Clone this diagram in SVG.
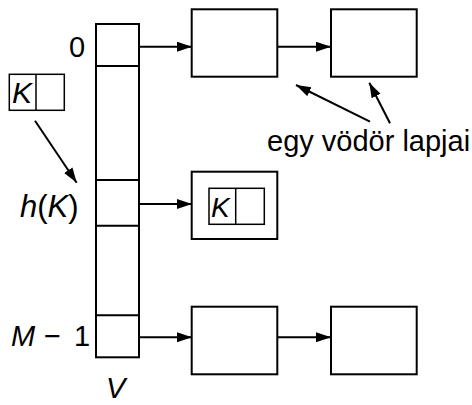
<svg xmlns="http://www.w3.org/2000/svg" width="472" height="405" viewBox="0 0 472 405">
<style>
.box{fill:#fff;stroke:#000;stroke-width:2}
.thin{fill:none;stroke:#000;stroke-width:1.5}
.ln{fill:none;stroke:#000;stroke-width:2}
.arr{fill:none;stroke:#000;stroke-width:2;marker-end:url(#ah)}
text{font-family:"Liberation Sans",Arial,sans-serif;font-size:29px;fill:#000}
.it{font-style:italic}
</style>
<defs>
<marker id="ah" markerUnits="userSpaceOnUse" markerWidth="16" markerHeight="12" refX="15" refY="5" orient="auto">
<path d="M0,0 L15,5 L0,10 z" fill="#000"/>
</marker>
</defs>
<g id="connectors">
<line class="arr" x1="139" y1="46.7" x2="192" y2="46.7"/>
<line class="arr" x1="277.3" y1="46.7" x2="331" y2="46.7"/>
<line class="arr" x1="139" y1="204" x2="192" y2="204"/>
<line class="arr" x1="139" y1="337.3" x2="192" y2="337.3"/>
<line class="arr" x1="277.3" y1="337.3" x2="331" y2="337.3"/>
<line class="arr" x1="35" y1="120.7" x2="76.7" y2="182.7"/>
<line class="arr" x1="370" y1="121.7" x2="296" y2="85"/>
<line class="arr" x1="390" y1="123.3" x2="369.3" y2="82.7"/>
</g>
<g id="vector">
<rect class="box" x="96" y="24" width="43" height="333.3"/>
<line class="ln" x1="96" y1="66" x2="139" y2="66"/>
<line class="ln" x1="96" y1="180" x2="139" y2="180"/>
<line class="ln" x1="96" y1="225.7" x2="139" y2="225.7"/>
<line class="ln" x1="96" y1="315.3" x2="139" y2="315.3"/>
</g>
<g id="key">
<rect class="thin" x="9.3" y="74.3" width="55" height="36"/>
<line class="thin" x1="36" y1="74.3" x2="36" y2="110.3"/>
<text class="it" x="12" y="103" style="font-size:30px">K</text>
</g>
<g id="bucket0-page1"><rect class="box" x="191.7" y="9.3" width="85.6" height="67.4"/></g>
<g id="bucket0-page2"><rect class="box" x="331" y="9.3" width="85.7" height="67.4"/></g>
<g id="bucketh-page1">
<rect class="box" x="191.7" y="171.7" width="85.6" height="67.3"/>
<rect class="thin" x="209" y="188.3" width="55.3" height="36"/>
<line class="thin" x1="235.7" y1="188.3" x2="235.7" y2="224.3"/>
<text class="it" x="211" y="217" style="font-size:28px">K</text>
</g>
<g id="bucketM-page1"><rect class="box" x="191.7" y="306.7" width="85.6" height="67.6"/></g>
<g id="bucketM-page2"><rect class="box" x="331" y="306.7" width="85.7" height="67.6"/></g>
<g id="labels">
<text x="69" y="57" style="font-size:29px">0</text>
<text x="20" y="217" style="font-size:31px"><tspan class="it">h</tspan>(<tspan class="it">K</tspan>)</text>
<text y="345.7"><tspan class="it" x="11">M</tspan><tspan x="44">−</tspan><tspan x="74">1</tspan></text>
<text class="it" x="106" y="398">V</text>
<text x="267" y="151">egy vödör lapjai</text>
</g>
</svg>
